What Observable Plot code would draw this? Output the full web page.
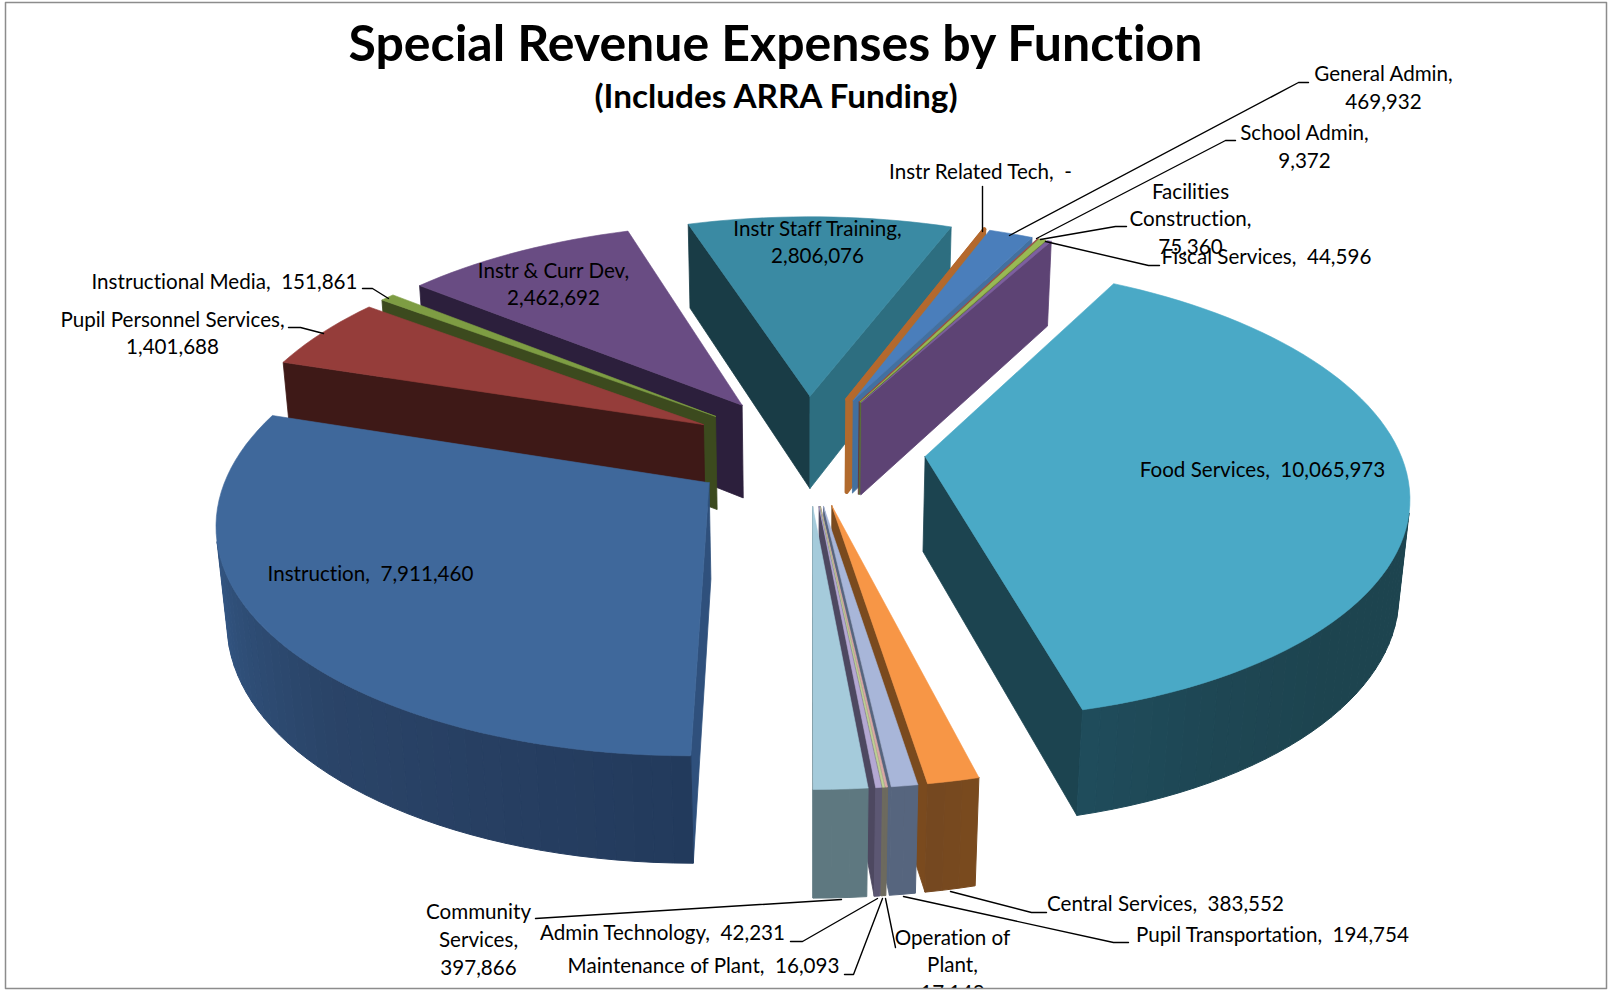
<!DOCTYPE html>
<html>
<head>
<meta charset="utf-8">
<style>html,body{margin:0;padding:0;background:#fff}svg{display:block}</style>
<script src="https://cdn.jsdelivr.net/npm/d3@7"></script>
<script src="https://cdn.jsdelivr.net/npm/@observablehq/plot@0.6"></script>
</head>
<body>
<div id="chart"></div>
<script>
// Slices in clockwise order, beginning with the first one after the top of the pie.
const categories = ["Instr Staff Training", "Instr Related Tech", "General Admin", "School Admin",
  "Facilities Construction", "Fiscal Services", "Food Services", "Central Services",
  "Pupil Transportation", "Operation of Plant", "Maintenance of Plant", "Admin Technology",
  "Community Services", "Instruction", "Pupil Personnel Services", "Instructional Media", "Instr & Curr Dev"];
const amounts = [2806076, 0, 469932, 9372, 75360, 44596, 10065973, 383552, 194754, 17148, 16093, 42231,
  397866, 7911460, 1401688, 151861, 2462692];

// Colours per slice: top face, start face, end face, and shades of the outer wall around the rim.
const topColors = ["#3a8aa3", "#b5682d", "#4a7ebb", "#a8504c", "#98b954", "#7d5fa0", "#4aa9c6", "#f79646",
  "#a8b6d9", "#d9a8a6", "#bfcf95", "#b4a8d3", "#a5cbdb", "#3f689b", "#953d3a", "#7e9d43", "#694c83"];
const startColors = ["#193c46", "#b16a2d", "#3c6794", "#6a3533", "#5a7036", "#5d4374", "#1c4450", "#7a4a1e",
  "#56657e", "#6b6a6f", "#6b6a6f", "#4d4860", "#5e7880", "#2f507c", "#3e1917", "#3c4a1e", "#2c1f3c"];
const endColors = ["#2d6e80", "#b16a2d", "#43709f", "#6a3533", "#5a7036", "#5d4374", "#1c4450", "#7a4a1e",
  "#56657e", "#6b6a6f", "#6b6a6f", "#4d4860", "#5e7880", "#3a6596", "#3e1917", "#3c4a1e", "#2c1f3c"];
const wallShades = [["#2d6e80"], ["#b16a2d"], ["#43709f"], ["#6a3533"], ["#5a7036"], ["#5d4374"],
  ["#1d444f", "#1d444f", "#1d444f", "#1d444f", "#1d444f", "#1d444f", "#1d444f", "#1e4653", "#1f4c5c"],
  ["#7a4a1e", "#744720"], ["#56657e"], ["#6d6a5e"], ["#6d6a5e"], ["#5c5773"], ["#5e7880"],
  ["#223a5c", "#273f62", "#2a4468", "#2f4f78", "#35598a", "#3b6594"],
  ["#3e1917"], ["#3c4a1e"], ["#2c1f3c"]];

// Pie construction: first slice angle, explosion and height in radius units, and the viewing camera.
const firstAngle = -17.6;
const explosion = 0.25;
const thickness = 0.23;
const arcStep = 2;
const elevation = 27.8 * Math.PI / 180;
const cameraDistance = 5.9;
const pieScale = 474;
const pieCenter = [806.5, 449];

// Hand-placed data labels: centre of the text block.
const labelX = [817, 980, 1383, 1304, 1190, 1266, 1262, 1165, 1272, 952, 703, 662, 478, 370, 172, 224, 553];
const labelY = [240, 170, 85.5, 144.5, 217, 255, 468, 902, 933, 963, 964, 931, 937.5, 572, 331, 279.5, 282];
const labelText = ["Instr Staff Training,\n2,806,076", "Instr Related Tech,  -", "General Admin,\n469,932",
  "School Admin,\n9,372", "Facilities\nConstruction,\n75,360", "Fiscal Services,  44,596",
  "Food Services,  10,065,973", "Central Services,  383,552", "Pupil Transportation,  194,754",
  "Operation of\nPlant,\n17,148", "Maintenance of Plant,  16,093", "Admin Technology,  42,231",
  "Community\nServices,\n397,866", "Instruction,  7,911,460", "Pupil Personnel Services,\n1,401,688",
  "Instructional Media,  151,861", "Instr & Curr Dev,\n2,462,692"];

// Leader lines from the labels to their slices, as x,y pairs.
const leaders = [
  [[982, 186], [982, 231]],
  [[1308, 82], [1298, 82], [1009, 235]],
  [[1235, 140], [1225, 140], [1036, 238]],
  [[1126, 226], [1115, 226], [1040, 239]],
  [[1159, 265], [1148, 265], [1045, 241]],
  [[1046, 912], [1031, 912], [950, 891]],
  [[1128, 942], [1113, 942], [903, 896]],
  [[895, 947], [885, 898]],
  [[844, 974], [853, 974], [882, 898]],
  [[790, 941], [802, 941], [877, 898]],
  [[535, 918], [841, 899]],
  [[288, 327], [300, 327], [323, 333]],
  [[362, 288], [372, 288], [388, 298]]
];

const rad = Math.PI / 180;
const total = d3.sum(amounts);

// Perspective projection of a point on the pie (y toward the viewer, z up).
function project(x, y, z) {
  const depth = cameraDistance - y * Math.cos(elevation) - z * Math.sin(elevation);
  const s = cameraDistance / depth;
  return [
    pieCenter[0] + pieScale * x * s,
    pieCenter[1] + pieScale * (y * Math.sin(elevation) - z * Math.cos(elevation)) * s
  ];
}

function signedArea(pts) {
  let a = 0;
  pts.forEach((p, i) => {
    const q = pts[(i + 1) % pts.length];
    a += p[0] * q[1] - q[0] * p[1];
  });
  return a / 2;
}

// Turn each amount into its angular extent.
let running = firstAngle;
const slices = amounts.map((v, i) => {
  const start = running;
  const end = start + v / total * 360;
  running = end;
  return {i, name: categories[i], start, end, mid: (start + end) / 2};
});

// Build the polygons back to front so that nearer slices paint over farther ones.
const polys = [];
let polyId = 0;
function addPoly(pts, fill, width) {
  const id = polyId++;
  [...pts, pts[0]].forEach(([x, y]) => polys.push({id, x, y, fill, width}));
}

[...slices].sort((a, b) => -Math.cos(a.mid * rad) + Math.cos(b.mid * rad)).forEach(s => {
  const ax = explosion * Math.sin(s.mid * rad);
  const ay = -explosion * Math.cos(s.mid * rad);
  const rim = (theta, z) => project(ax + Math.sin(theta * rad), ay - Math.cos(theta * rad), z);
  const apex = z => project(ax, ay, z);
  const zero = s.end === s.start;

  const startFace = [apex(0), rim(s.start, 0), rim(s.start, -thickness), apex(-thickness)];
  if (signedArea(startFace) < 0) addPoly(startFace, startColors[s.i], zero ? 4 : 0.8);
  const endFace = [apex(0), rim(s.end, 0), rim(s.end, -thickness), apex(-thickness)];
  if (signedArea(endFace) > 0) addPoly(endFace, endColors[s.i], zero ? 4 : 0.8);

  // Outer wall as narrow strips, so its shade can drift around the rim.
  const steps = Math.max(1, Math.ceil((s.end - s.start) / arcStep));
  const stops = wallShades[s.i];
  const shade = stops.length > 1 ? d3.piecewise(d3.interpolateRgb, stops) : () => stops[0];
  for (let k = 0; k < steps && !zero; k++) {
    const t0 = s.start + (s.end - s.start) * k / steps;
    const t1 = s.start + (s.end - s.start) * (k + 1) / steps;
    const strip = [rim(t0, 0), rim(t1, 0), rim(t1, -thickness), rim(t0, -thickness)];
    if (signedArea(strip) < 0) addPoly(strip, shade((k + 0.5) / steps), 1);
  }

  const topFace = [apex(0)];
  for (let k = 0; k <= steps; k++) topFace.push(rim(s.start + (s.end - s.start) * k / steps, 0));
  addPoly(topFace, topColors[s.i], zero ? 4 : 0.6);
});

const labels = labelText.map((text, i) => ({text, x: labelX[i], y: labelY[i]}));
const leaderRows = leaders.flatMap((pts, id) => pts.map(([x, y]) => ({id, x, y})));
const border = [[5, 2], [1606, 2], [1606, 988], [5, 988], [5, 2]].map(([x, y]) => ({x, y}));

const font = "Lato, Carlito, Calibri, sans-serif";

const chart = Plot.plot({
  width: 1608,
  height: 990,
  margin: 0,
  style: {background: "#fff", fontFamily: font, fontVariantLigatures: "none"},
  x: {type: "linear", domain: [0, 1608], range: [0, 1608], axis: null},
  y: {type: "linear", domain: [0, 990], range: [0, 990], axis: null},
  color: {type: "identity"},
  marks: [
    Plot.line(polys, {x: "x", y: "y", z: "id", fill: "fill", stroke: "fill", strokeWidth: "width", curve: "linear"}),
    Plot.line(leaderRows, {x: "x", y: "y", z: "id", stroke: "#000", strokeWidth: 1.4, curve: "linear"}),
    Plot.text(labels, {x: "x", y: "y", text: "text", fill: "#000", fontSize: 20.6, lineHeight: 1.345, textAnchor: "middle", fontFamily: font}),
    Plot.text(["Special Revenue Expenses by Function"], {x: 775, y: 44, fill: "#000", fontSize: 50, fontWeight: 700, textAnchor: "middle", fontFamily: font}),
    Plot.text(["(Includes ARRA Funding)"], {x: 775.5, y: 97, fill: "#000", fontSize: 33.3, fontWeight: 700, textAnchor: "middle", fontFamily: font}),
    // Chart border, drawn last; the white strip below trims the overflowing label.
    Plot.ruleY([989.5], {stroke: "#fff", strokeWidth: 3}),
    Plot.line(border, {x: "x", y: "y", stroke: "#8c8c8c", strokeWidth: 1.5, curve: "linear"})
  ]
});
document.getElementById("chart").appendChild(chart);
</script>
</body>
</html>
